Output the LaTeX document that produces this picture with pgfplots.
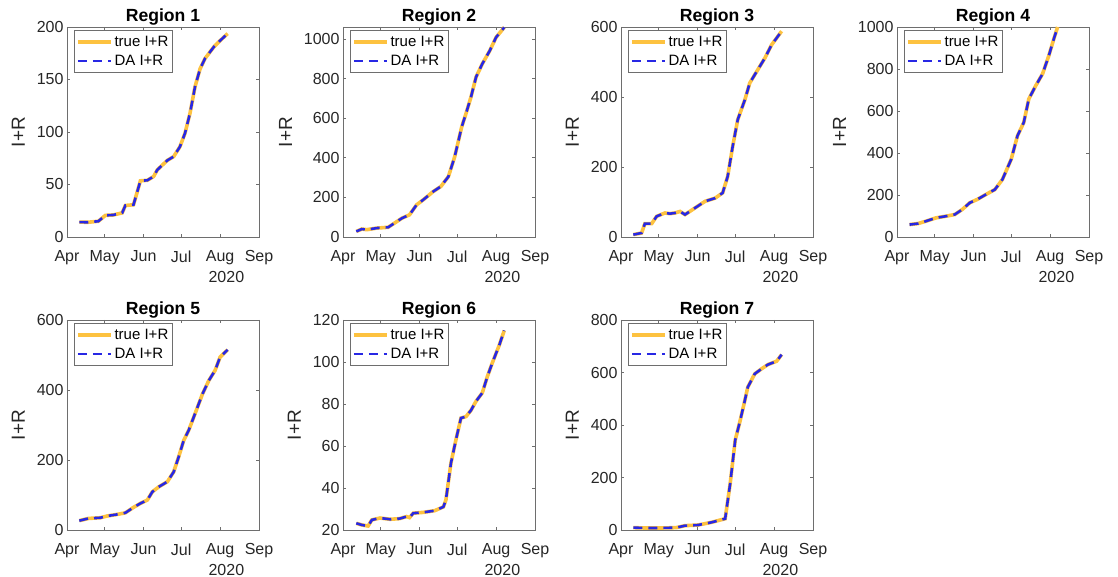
\documentclass[border=0pt]{standalone}
\usepackage{pgfplots}
\usepackage{pgfplotstable}
\pgfplotsset{compat=1.18}
\usepackage{fontspec}
\setmainfont{Liberation Sans}
\definecolor{myyellow}{RGB}{253,194,64}
\definecolor{myblue}{RGB}{40,40,228}
\definecolor{axgray}{RGB}{110,110,110}

\pgfplotstableread{
x y
9.8 14.2
16.5 14
25 15
30.6 20.6
37 21
44 23
46.5 30
53 30.7
58.5 53.5
64 54
69 57.6
72 64
80 73
85 76.6
90 86
94 98.7
98 117.7
102 143
106 160
110 170
117 181
122 187
128 193.7
}\rA

\pgfplotstableread{
x y
10.6 28
15 40
19 37
27 45
36 49
41 70
47 95
53 112
58.6 162
64 188
72 230
78 255
84 305
89 405
94.6 556
98 623
102 707
106 807
111 874
117 941
122 1008
128.5 1058
}\rB

\pgfplotstableread{
x y
9.8 6.7
16.4 11.4
19 38
24.4 38
28.4 59
35 68.6
39 66.7
43 68.6
47 73
51 64
59 83
67 102
75 111
81 126
85 173
89 259
93 335
98.7 392
102.6 440
109 478
114.6 511
120 549
128 588
}\rC

\pgfplotstableread{
x y
10 59
16.7 64
23 75
31 91
39 99
46 107
52 131
58 163
64 179
71 203
78 226
84 274
91 370
96 482
101 545
105 657
110.6 721
116 777
121 864
125 944
128 1000
}\rD

\pgfplotstableread{
x y
9.8 26.6
17 33
26.6 35
32 40
38.6 43.7
46.5 49
53 64.6
58.5 76
64 85.5
68 109
73 123
80 138
85 166
89 209
93 256
97 285
102 332
108 389
113 427
118 456
122 494
128 515
}\rE

\pgfplotstableread{
x y
10.6 23.2
15 22.4
20 21.9
23 24.8
29.5 25.7
37.5 25.1
45 25.4
50.7 26.4
53 25.9
56 28
64 28.4
73 29.2
80 31
82 34.3
86 51.8
90 63
94 73.3
98 74
102 77
106 81.3
111 85.3
115 93
119 99.6
124.5 108
128.5 115
}\rF

\pgfplotstableread{
x y
9.8 9
19 7.6
32 7.6
44 9
51 16.5
61.5 19
72 29
83 43
87 177
91 342
95 418
98.7 494
101 544
106.6 595
112 614
117 630
124 643
128 668
}\rG

\pgfplotsset{
  reg/.style={
    scale only axis, width=192pt, height=210pt, anchor=south west,
    xmin=0, xmax=153,
    xtick={0,30,61,91,122,153},
    xticklabels={Apr,May,Jun,Jul,Aug,Sep},
    tick align=inside, tick pos=both,
    major tick length=3pt,
    axis line style={axgray, line width=0.6pt},
    tick style={axgray, line width=0.6pt},
    ticklabel style={font=\fontsize{16}{18}\selectfont, text=black!85},
    /pgf/number format/assume math mode=true,
    /pgf/number format/1000 sep={},
    scaled y ticks=false,
    xticklabel style={yshift=-10pt},
    ylabel={I+R},
    ylabel shift=5pt,
    ylabel style={font=\fontsize{19}{21}\selectfont, text=black!85},
    title style={font=\fontsize{17.6}{20}\selectfont\bfseries, yshift=-8pt},
    legend style={at={(axis description cs:0.035,0.985)}, anchor=north west,
      font=\fontsize{15}{17}\selectfont, draw=axgray, line width=0.5pt,
      inner xsep=2pt, inner ysep=3.5pt, row sep=3.5pt, cells={anchor=west}},
    legend image code/.code={\draw[#1] (0pt,0pt) -- (33pt,0pt);},
    clip mode=individual,
  },
  truel/.style={myyellow, line width=3.6pt},
  dal/.style={myblue, line width=2.6pt, dash pattern=on 9pt off 6pt},
}
\newcommand{\yr}{\node[font=\fontsize{16}{18}\selectfont, text=black!85] at (axis description cs:0.83,0) [yshift=-40pt] {2020};}

\begin{document}
\begin{tikzpicture}
\useasboundingbox (0pt,0pt) rectangle (1118pt,577pt);

\begin{axis}[reg, at={(67pt,340pt)}, title={Region 1}, ymin=0, ymax=200, ytick={0,50,...,200}]
\addplot[truel] table {\rA};
\addplot[dal] table {\rA};
\legend{true I+R, DA I+R}
\yr
\end{axis}

\begin{axis}[reg, at={(343pt,340pt)}, title={Region 2}, ymin=0, ymax=1060, ytick={0,200,...,1000}]
\addplot[truel] table {\rB};
\addplot[dal] table {\rB};
\legend{true I+R, DA I+R}
\yr
\end{axis}

\begin{axis}[reg, at={(621pt,340pt)}, title={Region 3}, ymin=0, ymax=600, ytick={0,200,...,600}]
\addplot[truel] table {\rC};
\addplot[dal] table {\rC};
\legend{true I+R, DA I+R}
\yr
\end{axis}

\begin{axis}[reg, at={(897pt,340pt)}, title={Region 4}, ymin=0, ymax=1000, ytick={0,200,...,1000}]
\addplot[truel] table {\rD};
\addplot[dal] table {\rD};
\legend{true I+R, DA I+R}
\yr
\end{axis}

\begin{axis}[reg, at={(67pt,47pt)}, title={Region 5}, ymin=0, ymax=600, ytick={0,200,...,600}]
\addplot[truel] table {\rE};
\addplot[dal] table {\rE};
\legend{true I+R, DA I+R}
\yr
\end{axis}

\begin{axis}[reg, at={(343pt,47pt)}, title={Region 6}, ymin=20, ymax=120, ytick={20,40,...,120}]
\addplot[truel] table {\rF};
\addplot[dal] table {\rF};
\legend{true I+R, DA I+R}
\yr
\end{axis}

\begin{axis}[reg, at={(621pt,47pt)}, title={Region 7}, ymin=0, ymax=800, ytick={0,200,...,800}]
\addplot[truel] table {\rG};
\addplot[dal] table {\rG};
\legend{true I+R, DA I+R}
\yr
\end{axis}

\end{tikzpicture}
\end{document}
